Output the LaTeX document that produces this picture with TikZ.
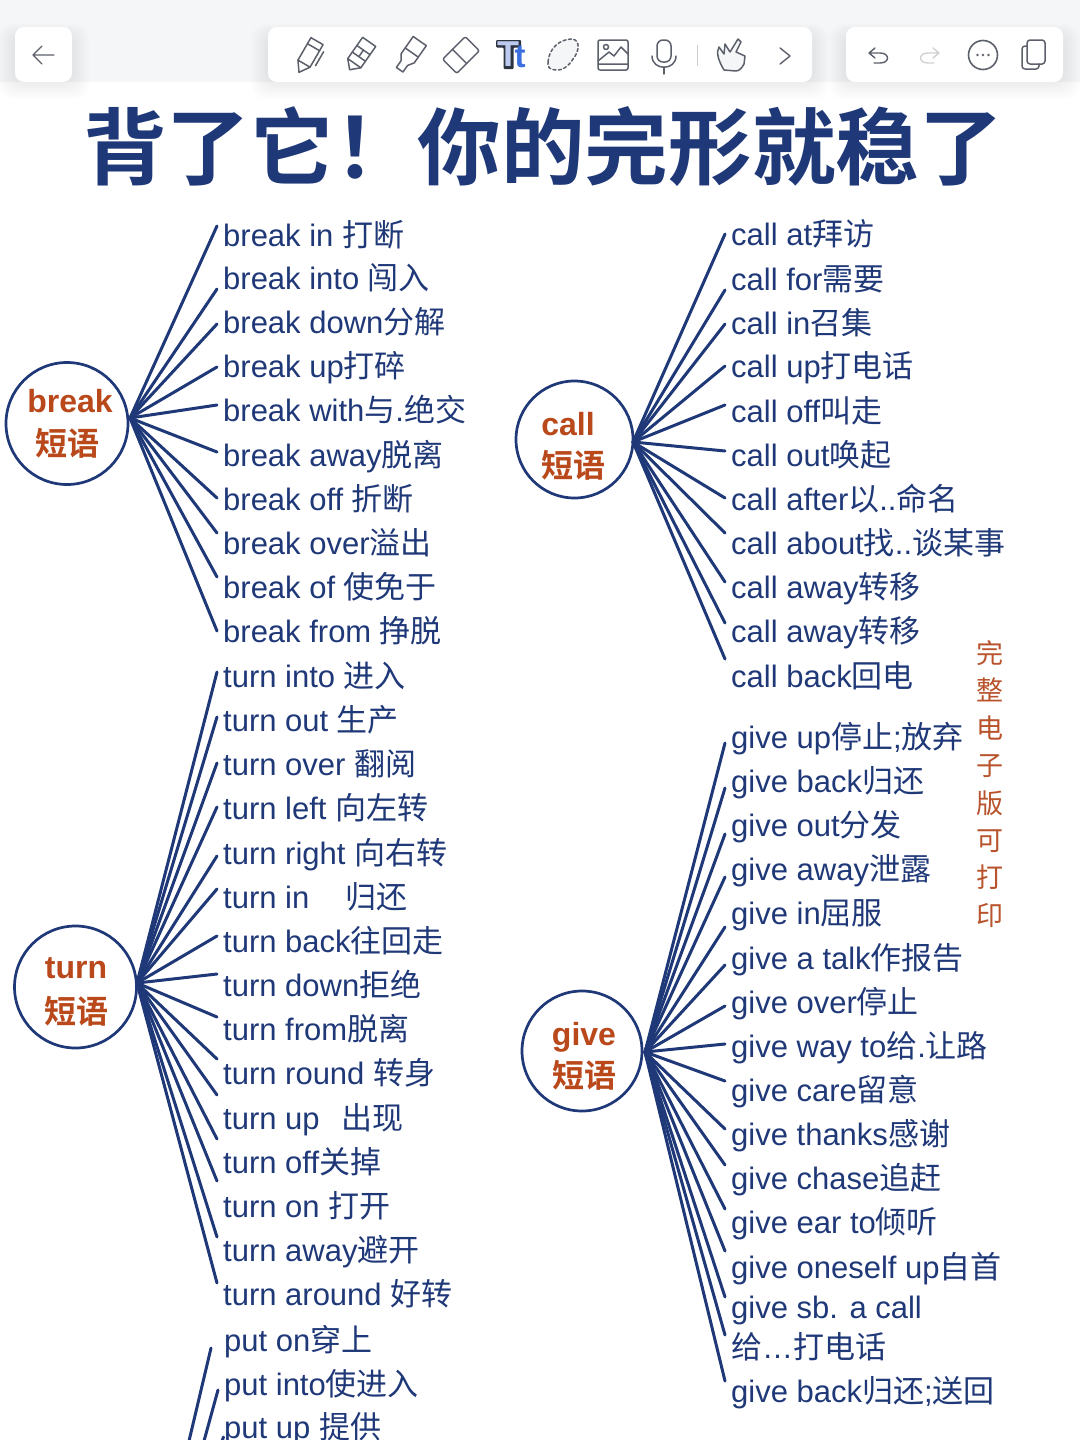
\documentclass[tikz,border=0pt]{standalone}
\usepackage{fontspec}
\setmainfont{Liberation Sans}
\newfontfamily\cjk{Noto Sans CJK SC}
\newfontfamily\cjkb[UprightFont=* Bold]{Noto Sans CJK SC}
\newcommand{\Z}[1]{{\cjk #1}}
\definecolor{navy}{HTML}{1F3878}
\definecolor{rust}{HTML}{B9481A}
\definecolor{sidenote}{HTML}{B8532B}
\definecolor{icon}{HTML}{5C606B}
\definecolor{barbg}{HTML}{F5F6F8}
\definecolor{ttlight}{HTML}{BCCAF0}
\definecolor{ttblue}{HTML}{3B6FE0}
\definecolor{ttdark}{HTML}{2E3340}
\tikzset{
  x=1pt,y=-1pt,
  leaftext/.style={anchor=base west,inner sep=0pt,text=navy,font=\fontsize{31}{31}\selectfont},
  branch/.style={draw=navy,line width=3pt,line cap=round},
  hubring/.style={circle,draw=navy,line width=2.7pt,fill=white,inner sep=0pt},
  hubword/.style={anchor=base,inner sep=0pt,text=rust,font=\fontsize{32}{32}\selectfont\bfseries},
  hubzh/.style={anchor=center,inner sep=0pt,text=rust,font=\fontsize{32}{32}\selectfont\cjkb},
  panel/.style={fill=white,rounded corners=9pt},
  ic/.style={draw=icon,line width=1.5pt,line join=round,line cap=round},
}
% \leaf{name}{hub}{text x}{baseline}{branch end y}{text}
\newcommand{\leaf}[6]{%
  \node[leaftext] (#1) at (#3,#4) {#6};
  \coordinate (#1e) at ({#3-6},#5);
  \draw[branch] (#2) -- (#1e);
}
\newcommand{\softshadow}[4]{%
  \foreach \g in {1,...,9}{
    \fill[black,opacity=0.0065,rounded corners=14pt] ({#1-1.9*\g},{#2+8-1.2*\g}) rectangle ({#3+1.9*\g},{#4+1.9*\g});
  }
}
\begin{document}
\begin{tikzpicture}
\useasboundingbox (0,0) rectangle (1080,1440);
\fill[white] (0,0) rectangle (1080,1440);
\fill[barbg] (0,0) rectangle (1080,82);
\softshadow{15}{27}{72}{82}
\softshadow{268}{27}{812}{82}
\softshadow{846}{27}{1063}{82}
\fill[panel] (15,27) rectangle (72,82);
\fill[panel] (268,27) rectangle (812,82);
\fill[panel] (846,27) rectangle (1063,82);
% back
\draw[ic,line width=1.4pt] (54,55) -- (33,55) (42,46) -- (33,55) -- (42,64);
% pencil
\begin{scope}[shift={(309,55)},rotate=-30]
\draw[ic] (-7,-16) -- (7,-16) -- (7,10) -- (0,20) -- (-7,10) -- cycle;
\draw[ic] (-7,-9) -- (7,-9) (-7,10) -- (7,10);
\draw[ic] (11,-10) -- (11,6);
\end{scope}
% marker
\begin{scope}[shift={(360,55)},rotate=-35]
\draw[ic] (-8,-16) -- (8,-16) -- (8,10) -- (0,18) -- (-8,10) -- cycle;
\draw[ic] (-8,-6) -- (8,-6) (-8,2) -- (8,2) (-8,10) -- (8,10) (0,-6) -- (0,2);
\end{scope}
% highlighter
\begin{scope}[shift={(410,55)},rotate=-35]
\draw[ic] (-8,-17) -- (8,-17) -- (8,4) -- (4,10) -- (4,18) -- (-4,18) -- (-4,10) -- (-8,4) -- cycle;
\draw[ic] (-8,-3) -- (8,-3);
\end{scope}
% eraser
\begin{scope}[shift={(461,55)},rotate=-45]
\draw[ic,rounded corners=2pt] (-10,-16) rectangle (10,16);
\draw[ic] (-10,2) -- (10,2);
\end{scope}
% Tt
\fill[ttdark,rounded corners=1pt] (496,40) -- (521,40) -- (521,47.5) -- (513.5,47.5) -- (513.5,69) -- (503.5,69) -- (503.5,47.5) -- (496,47.5) -- cycle;
\node[inner sep=0pt,font=\fontsize{36}{36}\selectfont\bfseries,text=ttlight] (ttT) at (508.5,54.5) {T};
\node[inner sep=0pt,font=\fontsize{33}{33}\selectfont\bfseries,text=ttblue] (ttt) at (520,57) {t};
% lasso
\draw[ic,fill=barbg,dash pattern=on 3pt off 2.5pt] (548,62) .. controls (549,48) and (560,39) .. (572,39) .. controls (581,40) and (579,52) .. (573,59) .. controls (569,66) and (562,71) .. (556,70) .. controls (550,70) and (547,67) .. (548,62) -- cycle;
% image
\draw[ic,rounded corners=2pt] (598,40) rectangle (628,70);
\draw[ic] (598,61) -- (609,52) -- (614,56) -- (621,47) -- (628,54) (598,64) -- (628,64);
\draw[ic] (606,47) circle (2.5);
% mic
\draw[ic,rounded corners=6pt] (657,40) rectangle (671,62);
\draw[ic] (652,56) .. controls (652,71) and (676,71) .. (676,56);
\draw[ic] (664,67) -- (664,74);
\draw[gray!40,line width=1pt] (697,45) -- (697,66);
% hand
\draw[ic,fill=barbg] (724,70) .. controls (718,60) and (716,52) .. (719,47) -- (724,54) -- (725,44) -- (730,52) -- (738,39) -- (741,42) -- (736,52) -- (745,56) -- (744,64) .. controls (742,68) and (739,71) .. (736,71) -- cycle;
% chevron
\draw[ic,line width=1.4pt] (780,48) -- (790,56) -- (780,64);
% undo
\draw[ic,line width=1.4pt] (875,48) -- (869,53) -- (875,58) (869,53) -- (880,53) .. controls (890,53) and (890,63) .. (880,63) -- (874,63);
% redo
\draw[ic,draw=gray!35,line width=1.4pt] (933,48) -- (939,53) -- (933,58) (939,53) -- (928,53) .. controls (918,53) and (918,63) .. (928,63) -- (934,63);
% more
\draw[ic,line width=1.6pt] (983,55) circle (14.5);
\fill[icon] (977.5,55) circle (1.4) (983,55) circle (1.4) (988.5,55) circle (1.4);
% copy
\draw[ic,rounded corners=3pt] (1027,40) rectangle (1045,64);
\draw[ic,rounded corners=3pt] (1027,46) -- (1022,46) -- (1022,69) -- (1039,69) -- (1039,64);
% title
\node[anchor=base west,inner sep=0pt,text=navy,font=\fontsize{83.6}{83.6}\selectfont\cjkb] (title) at (83,178) {背了它！你的完形就稳了};
% hubs
\node[hubring,minimum size=122pt] (hbreak) at (67,423.5) {};
\coordinate (pb) at (130,418);
\node[hubword] (wbreak) at (70,412) {break};
\node[hubzh] (zbreak) at (67.5,443) {短语};
\node[hubring,minimum size=117pt] (hcall) at (574.5,439.5) {};
\coordinate (pc) at (633,442);
\node[hubword] (wcall) at (568,435) {call};
\node[hubzh] (zcall) at (573,465) {短语};
\node[hubring,minimum size=122pt] (hturn) at (75.5,987) {};
\coordinate (pt) at (137,983);
\node[hubword] (wturn) at (76,978) {turn};
\node[hubzh] (zturn) at (76,1011) {短语};
\node[hubring,minimum size=120pt] (hgive) at (582,1051) {};
\coordinate (pg) at (645,1052);
\node[hubword] (wgive) at (584,1045) {give};
\node[hubzh] (zgive) at (584,1075) {短语};
% break
\leaf{b1}{pb}{223}{246}{226}{break in \Z{打断}}
\leaf{b2}{pb}{223}{289}{289}{break into \Z{闯入}}
\leaf{b3}{pb}{223}{333}{324}{break down\Z{分解}}
\leaf{b4}{pb}{223}{377}{367}{break up\Z{打碎}}
\leaf{b5}{pb}{223}{421}{405}{break with\Z{与}.\Z{绝交}}
\leaf{b6}{pb}{223}{466}{452}{break away\Z{脱离}}
\leaf{b7}{pb}{223}{510}{498}{break off \Z{折断}}
\leaf{b8}{pb}{223}{554}{533}{break over\Z{溢出}}
\leaf{b9}{pb}{223}{598}{577}{break of \Z{使免于}}
\leaf{b10}{pb}{223}{642}{631}{break from \Z{挣脱}}
% call
\leaf{c1}{pc}{731}{245}{234}{call at\Z{拜访}}
\leaf{c2}{pc}{731}{290}{290}{call for\Z{需要}}
\leaf{c3}{pc}{731}{334}{324}{call in\Z{召集}}
\leaf{c4}{pc}{731}{377}{366}{call up\Z{打电话}}
\leaf{c5}{pc}{731}{422}{405}{call off\Z{叫走}}
\leaf{c6}{pc}{731}{466}{451}{call out\Z{唤起}}
\leaf{c7}{pc}{731}{510}{498}{call after\Z{以}..\Z{命名}}
\leaf{c8}{pc}{731}{554}{533}{call about\Z{找}..\Z{谈某事}}
\leaf{c9}{pc}{731}{598}{582}{call away\Z{转移}}
\leaf{c10}{pc}{731}{642}{623}{call away\Z{转移}}
\leaf{c11}{pc}{731}{687}{659}{call back\Z{回电}}
% turn
\leaf{t1}{pt}{223}{687}{672}{turn into \Z{进入}}
\leaf{t2}{pt}{223}{731}{717}{turn out \Z{生产}}
\leaf{t3}{pt}{223}{775}{763}{turn over \Z{翻阅}}
\leaf{t4}{pt}{223}{819}{807}{turn left \Z{向左转}}
\leaf{t5}{pt}{223}{864}{856}{turn right \Z{向右转}}
\leaf{t6}{pt}{223}{908}{889}{turn in\hspace*{36pt}\Z{归还}}
\leaf{t7}{pt}{223}{952}{936}{turn back\Z{往回走}}
\leaf{t8}{pt}{223}{996}{974}{turn down\Z{拒绝}}
\leaf{t9}{pt}{223}{1040}{1017}{turn from\Z{脱离}}
\leaf{t10}{pt}{223}{1084}{1059}{turn round \Z{转身}}
\leaf{t11}{pt}{223}{1129}{1095}{turn up\hspace*{22pt}\Z{出现}}
\leaf{t12}{pt}{223}{1173}{1139}{turn off\Z{关掉}}
\leaf{t13}{pt}{223}{1217}{1181}{turn on \Z{打开}}
\leaf{t14}{pt}{223}{1261}{1237}{turn away\Z{避开}}
\leaf{t15}{pt}{223}{1305}{1283}{turn around \Z{好转}}
% give
\leaf{g1}{pg}{731}{748}{743}{give up\Z{停止};\Z{放弃}}
\leaf{g2}{pg}{731}{792}{788}{give back\Z{归还}}
\leaf{g3}{pg}{731}{836}{834}{give out\Z{分发}}
\leaf{g4}{pg}{731}{880}{877}{give away\Z{泄露}}
\leaf{g5}{pg}{731}{924}{927}{give in\Z{屈服}}
\leaf{g6}{pg}{731}{969}{965}{give a talk\Z{作报告}}
\leaf{g7}{pg}{731}{1013}{1006}{give over\Z{停止}}
\leaf{g8}{pg}{731}{1057}{1044}{give way to\Z{给}.\Z{让路}}
\leaf{g9}{pg}{731}{1101}{1081}{give care\Z{留意}}
\leaf{g10}{pg}{731}{1145}{1129}{give thanks\Z{感谢}}
\leaf{g11}{pg}{731}{1189}{1165}{give chase\Z{追赶}}
\leaf{g12}{pg}{731}{1233}{1209}{give ear to\Z{倾听}}
\leaf{g13}{pg}{731}{1278}{1251}{give oneself up\Z{自首}}
\leaf{g14}{pg}{731}{1318}{1297}{give sb. a call}
\node[leaftext] (g14b) at (731,1358) {\Z{给}…\Z{打电话}};
\coordinate (g14be) at (725,1335);
\draw[branch] (pg) -- (g14be);
\leaf{g16}{pg}{731}{1402}{1381}{give back\Z{归还};\Z{送回}}
% put
\coordinate (pa) at (189,1441);
\coordinate (pbb) at (204,1441);
\coordinate (pcc) at (222,1441);
\node[leaftext] (p1) at (224,1351) {put on\Z{穿上}};
\node[leaftext] (p2) at (224,1395) {put into\Z{使进入}};
\node[leaftext] (p3) at (224,1438) {put up \Z{提供}};
\coordinate (p1e) at (211,1348);
\coordinate (p2e) at (218,1390);
\coordinate (p3e) at (223.5,1437);
\draw[branch] (pa) -- (p1e);
\draw[branch] (pbb) -- (p2e);
\draw[branch] (pcc) -- (p3e);
% side note
\node[inner sep=0pt,align=center,text=sidenote,font=\fontsize{27}{37.4}\selectfont\cjk] (side) at (990,784) {完\\整\\电\\子\\版\\可\\打\\印};
\end{tikzpicture}
\end{document}
